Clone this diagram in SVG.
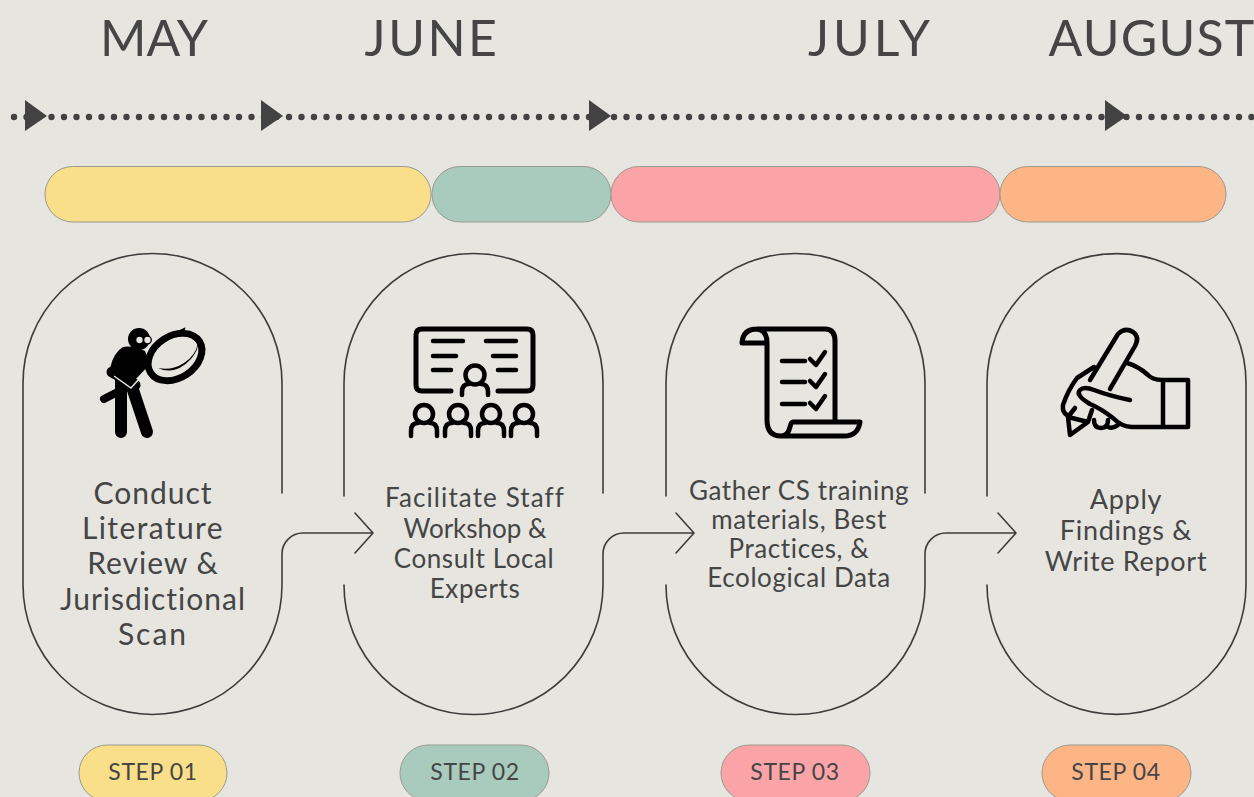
<svg xmlns="http://www.w3.org/2000/svg" width="1254" height="797" viewBox="0 0 1254 797">
<style>
text{font-family:"Lato","Liberation Sans",sans-serif;fill:#454545;text-anchor:middle}
.m{font-size:50px}
.b{font-size:30px;letter-spacing:1px}
.c{font-size:26px;letter-spacing:.6px}
.d{font-size:27px;letter-spacing:.7px}
.s{font-size:23px;letter-spacing:.6px}
.bar{stroke:#9a9a90;stroke-width:1}
.ln{fill:none;stroke:#3c3c3c;stroke-width:1.6;stroke-linecap:round;stroke-linejoin:round}
.ic{fill:none;stroke:#000;stroke-width:5;stroke-linecap:round;stroke-linejoin:round}
.th{stroke-width:4.500}
.tri{fill:#424242}
</style>
<rect width="1254" height="797" fill="#e6e5e0"/>
<g id="months">
<text class="m" x="154" y="56">MAY</text>
<text class="m" x="432" y="56" style="letter-spacing:2.500px">JUNE</text>
<text class="m" x="871" y="56" style="letter-spacing:4px">JULY</text>
<text class="m" x="1152" y="56" style="letter-spacing:1.200px">AUGUST</text>
</g>
<g id="timeline">
<path d="M14 117H1254" fill="none" stroke="#424242" stroke-width="6.4" stroke-linecap="round" stroke-dasharray="0 12.5"/>
<path class="tri" d="M25 100L47 116L25 131Z"/>
<path class="tri" d="M261 100L283 116L261 131Z"/>
<path class="tri" d="M589 100L611 116L589 131Z"/>
<path class="tri" d="M1105 100L1127 116L1105 131Z"/>
</g>
<g id="bars">
<rect class="bar" x="45" y="166.500" width="386" height="55.500" rx="27.700" fill="#f9df8a"/>
<rect class="bar" x="432" y="166.500" width="179" height="55.500" rx="27.700" fill="#a9cbbd"/>
<rect class="bar" x="611" y="166.500" width="389" height="55.500" rx="27.700" fill="#fba4a7"/>
<rect class="bar" x="1000" y="166.500" width="226" height="55.500" rx="27.700" fill="#fdb586"/>
</g>
<g id="connectors">
<path class="ln" d="M282 493V383A129.500 129.500 0 0 0 23 383V585A129.500 129.500 0 0 0 282 585V554A21 21 0 0 1 303 533H373M355 513L373 533L355 553"/>
<path class="ln" d="M344 496V383A129.500 129.500 0 0 1 603 383V493M344 585A129.500 129.500 0 0 0 603 585V554A21 21 0 0 1 624 533H694M676 513L694 533L676 553"/>
<path class="ln" d="M666 496V383A129.500 129.500 0 0 1 925 383V493M666 585A129.500 129.500 0 0 0 925 585V554A21 21 0 0 1 946 533H1016M998 513L1016 533L998 553"/>
<path class="ln" d="M987 496V383A129.500 129.500 0 0 1 1246 383V585A129.500 129.500 0 0 1 987 585"/>
</g>
<g id="step1">
<circle cx="139" cy="339" r="11" fill="#000"/>
<path d="M123 347Q132 345 145 351L150 364L135 380L110 368Q114 352 123 347Z" fill="#000"/>
<path d="M121 365V432M128 375L147 432" stroke="#000" stroke-width="12" stroke-linecap="round" fill="none"/>
<path d="M104 399L135 383" stroke="#000" stroke-width="8" stroke-linecap="round"/>
<path d="M112 372L135 385" stroke="#000" stroke-width="11" stroke-linecap="round"/>
<path d="M114 376L131 388L139 379" stroke="#e6e5e0" stroke-width="1.500" fill="none"/>
<ellipse cx="175" cy="357" rx="29" ry="21" transform="rotate(-33 175 357)" fill="#e6e5e0" stroke="#000" stroke-width="7"/>
<path d="M158 368Q175 376 191 359Q199 349 198 343Q196 355 184 363Q172 371 158 368Z" fill="#000"/>
<path d="M178 332L184 329L183 333Z" fill="#000" stroke="#000" stroke-width="2"/>
<circle cx="139.500" cy="340" r="3.800" fill="#e6e5e0" stroke="#000" stroke-width="1.300"/>
<circle cx="147.500" cy="340" r="3.800" fill="#e6e5e0" stroke="#000" stroke-width="1.300"/>
<text class="b" x="153" y="504">Conduct</text>
<text class="b" x="153" y="539" style="letter-spacing:1.400px">Literature</text>
<text class="b" x="153" y="574">Review &amp;</text>
<text class="b" x="153" y="610">Jurisdictional</text>
<text class="b" x="153" y="645" style="letter-spacing:2px">Scan</text>
</g>
<g id="step2">
<path class="ic" d="M451 391H422Q416 391 416 385V335Q416 329 422 329H527Q533 329 533 335V385Q533 391 527 391H498"/>
<path class="ic th" d="M433 341H463M433 356H456M433 370H451M486 341H516M493 356H516M498 370H516"/>
<g class="ic th">
<circle cx="475" cy="375" r="9.500"/><path d="M462 395V392Q462 384 469 384M488 395V392Q488 384 481 384"/>
<circle cx="424" cy="414" r="9"/><path d="M411 436V431Q411 423 418 423M437 436V431Q437 423 430 423"/>
<circle cx="458" cy="414" r="9"/><path d="M445 436V431Q445 423 452 423M471 436V431Q471 423 464 423"/>
<circle cx="491" cy="414" r="9"/><path d="M478 436V431Q478 423 485 423M504 436V431Q504 423 497 423"/>
<circle cx="524" cy="414" r="9"/><path d="M511 436V431Q511 423 518 423M537 436V431Q537 423 530 423"/>
</g>
<text class="c" x="475" y="507" style="letter-spacing:1.100px">Facilitate Staff</text>
<text class="c" x="475" y="538" style="letter-spacing:0">Workshop &amp;</text>
<text class="c" x="474" y="568">Consult Local</text>
<text class="c" x="475" y="598">Experts</text>
</g>
<g id="step3">
<path class="ic" d="M767 343H742Q743 329 757 329H825Q835 329 835 341V421M757 329Q767 330 767 343V420Q767 436 781 436H844Q858 436 860 422H793Q791 422 790 427Q788 436 781 436"/>
<path class="ic th" d="M782 361H805M782 382H805M782 404H805M810 359L816 365L825 352M810 381L816 387L825 374M810 403L816 409L825 396"/>
<text class="c" x="799" y="500">Gather CS training</text>
<text class="c" x="799" y="529">materials, Best</text>
<text class="c" x="799" y="558">Practices, &amp;</text>
<text class="c" x="799" y="587">Ecological Data</text>
</g>
<g id="step4">
<path class="ic th" d="M1090 380L1118 334Q1125 327 1133 332Q1140 337 1135 346L1110 389"/>
<path class="ic th" d="M1075 408L1068 417L1070 435L1088 422L1092 410M1068 417L1088 422"/>
<path class="ic th" d="M1094 367L1077 378Q1068 390 1063 405Q1062 412 1067 415M1127 363Q1138 366 1148 375Q1153 380 1162 380H1188V427H1132Q1122 427 1113 418Q1100 408 1090 404Q1075 395 1080 390Q1084 386 1094 390Q1110 396 1130 400M1163 380V427M1094 420Q1094 428 1101 428Q1108 428 1108 420M1108 427Q1113 429 1118 425"/>
<text class="d" x="1126" y="509">Apply</text>
<text class="d" x="1126" y="540">Findings &amp;</text>
<text class="d" x="1126" y="571">Write Report</text>
</g>
<g id="steps">
<rect class="bar" x="79" y="745" width="148" height="56" rx="28" fill="#f9df8a"/>
<rect class="bar" x="400" y="745" width="149" height="56" rx="28" fill="#a9cbbd"/>
<rect class="bar" x="721" y="745" width="149" height="56" rx="28" fill="#fba4a7"/>
<rect class="bar" x="1042" y="745" width="149" height="56" rx="28" fill="#fdb586"/>
<text class="s" x="153" y="780">STEP 01</text>
<text class="s" x="475" y="780">STEP 02</text>
<text class="s" x="795" y="780">STEP 03</text>
<text class="s" x="1116" y="780">STEP 04</text>
</g>
</svg>
